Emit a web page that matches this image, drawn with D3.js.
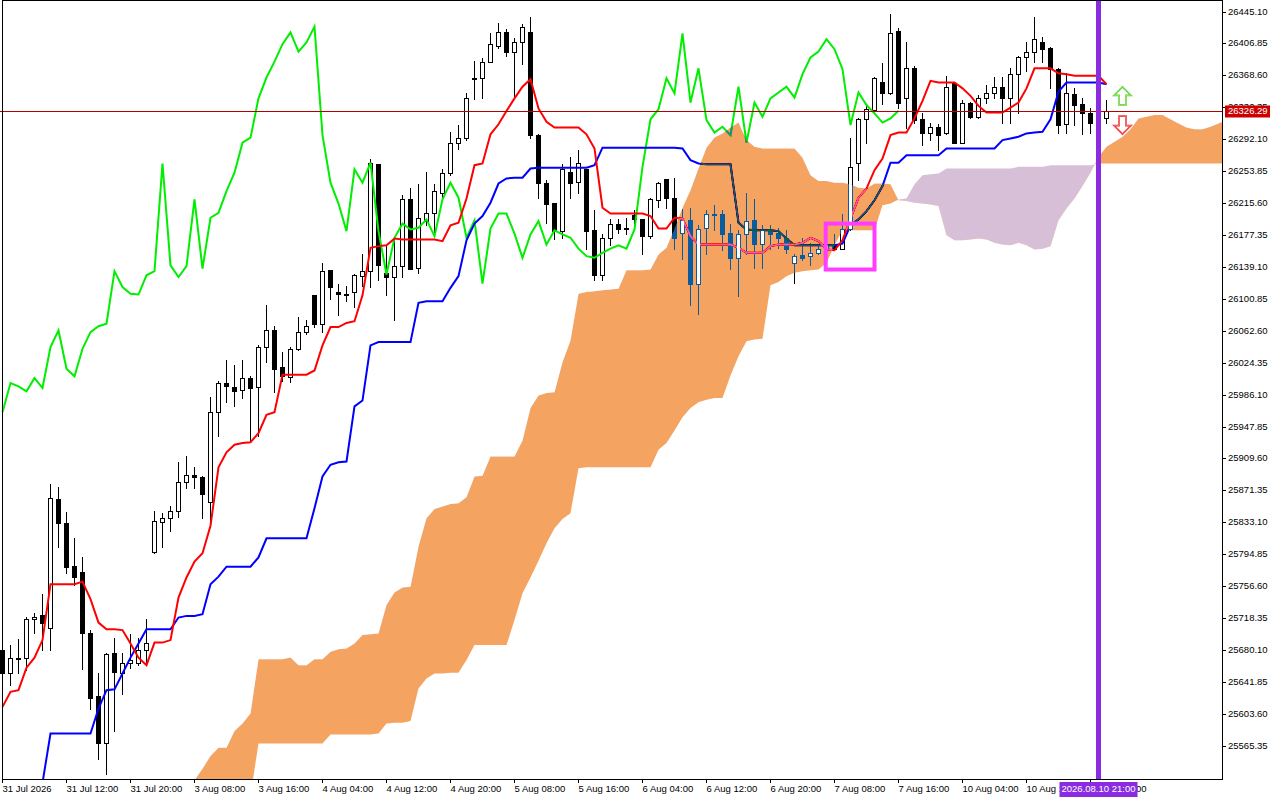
<!DOCTYPE html>
<html lang="en">
<head>
<meta charset="UTF-8">
<title>Ichimoku H1</title>
<style>
  body { margin: 0; background: #fff; overflow: hidden; }
  svg { display: block; font-family: "Liberation Sans", Arial, sans-serif; }
  .lbl { font-size: 9.5px; fill: #000; }
</style>
</head>
<body>
<svg id="chart" width="1280" height="800"></svg>
<script src="https://d3js.org/d3.v7.min.js"></script>
<script>
// H1 bars, index 0 = 31 Jul 2026 00:00
const opens = [
  25680,25653,25670,25671,25717,25722,25707,25861,25832,25781,
  25774,25701,25625,25569,25677,25653,25665,25665,25680,25797,
  25834,25838,25847,25882,25890,25887,25858,25965,26000,25995,
  25992,26006,25995,26043,26064,26019,26007,26041,26061,26105,
  26071,26135,26109,26107,26109,26128,26134,26262,26132,26127,
  26140,26221,26138,26194,26204,26228,26252,26287,26294,26365,
  26365,26385,26404,26421,26396,26408,26421,26297,26240,26216,
  26182,26253,26241,26257,26183,26130,26174,26191,26184,26201,
  26197,26176,26219,26245,26222,26180,26195,26119,26186,26201,
  26202,26180,26150,26179,26195,26167,26184,26180,26174,26144,
  26153,26152,26156,26161,26167,26161,26185,26264,26316,26327,
  26361,26347,26422,26341,26377,26316,26300,26307,26299,26360,
  26288,26336,26319,26342,26348,26355,26342,26370,26390,26397,
  26409,26401,26376,26310,26346,26334,26324,26312,26318
];
const highs = [
  25686,25686,25693,25720,25724,25747,25879,25875,25845,25814,
  25791,25704,25652,25676,25695,25677,25699,25694,25717,25847,
  25844,25853,25905,25912,25899,25888,25983,26003,26027,26021,
  26027,26008,26046,26094,26068,26037,26043,26079,26075,26105,
  26144,26135,26119,26116,26131,26154,26268,26262,26165,26171,
  26225,26234,26239,26253,26239,26257,26301,26309,26347,26386,
  26389,26419,26431,26424,26413,26430,26438,26298,26243,26216,
  26262,26271,26279,26257,26207,26178,26196,26197,26198,26207,
  26197,26222,26241,26245,26246,26209,26210,26189,26207,26213,
  26207,26191,26183,26228,26220,26189,26189,26186,26183,26155,
  26174,26168,26165,26167,26179,26202,26294,26318,26333,26367,
  26383,26442,26425,26408,26380,26324,26312,26310,26368,26360,
  26339,26337,26345,26357,26367,26367,26377,26392,26408,26439,
  26414,26402,26377,26372,26353,26341,26330,26322,26339
];
const lows = [
  25634,25638,25652,25656,25701,25680,25680,25804,25772,25758,
  25657,25609,25550,25531,25583,25628,25659,25662,25665,25796,
  25803,25823,25839,25874,25874,25838,25835,25936,25977,25972,
  25982,25929,25937,26025,25989,26002,26001,26040,26059,26067,
  26061,26101,26081,26098,26091,26116,26115,26123,26105,26075,
  26127,26136,26132,26189,26177,26222,26249,26280,26291,26340,
  26342,26384,26401,26392,26342,26382,26293,26222,26192,26172,
  26174,26222,26228,26161,26124,26123,26165,26180,26179,26191,
  26155,26174,26211,26210,26161,26149,26094,26083,26155,26183,
  26159,26137,26104,26155,26138,26138,26161,26162,26156,26120,
  26147,26141,26155,26159,26160,26160,26183,26243,26288,26324,
  26334,26346,26330,26305,26312,26285,26291,26279,26298,26287,
  26287,26318,26318,26335,26342,26312,26312,26324,26374,26385,
  26384,26353,26299,26300,26309,26298,26299,26307,26312
];
const closes = [
  25653,25671,25671,25717,25720,25712,25862,25832,25780,25767,
  25700,25623,25569,25675,25654,25665,25668,25680,25688,25835,
  25838,25847,25881,25890,25887,25867,25965,26000,25996,25990,
  26006,25994,26043,26063,26017,26008,26041,26061,26068,26071,
  26134,26115,26107,26106,26129,26134,26263,26141,26127,26140,
  26220,26137,26198,26204,26230,26252,26288,26294,26341,26366,
  26385,26406,26420,26397,26408,26427,26297,26240,26215,26182,
  26256,26240,26264,26182,26130,26174,26191,26184,26186,26196,
  26176,26220,26240,26222,26174,26195,26119,26185,26203,26203,
  26179,26150,26178,26194,26166,26183,26178,26174,26161,26152,
  26150,26156,26161,26165,26161,26184,26259,26316,26328,26365,
  26347,26419,26336,26377,26315,26300,26307,26297,26355,26288,
  26336,26319,26341,26348,26355,26342,26370,26390,26397,26412,
  26400,26376,26309,26348,26333,26323,26312,26317,26326.29
];

// Tenkan-sen (red)
const tenkan = [
  25612,25630,25632,25659,25671,25692,25759,25759,25759,25759,
  25762,25741,25713,25705,25705,25704,25688,25671,25662,25689,
  25689,25692,25743,25767,25786,25796,25829,25899,25917,25926,
  25928,25929,25940,25962,25965,26010,26010,26010,26010,26015,
  26045,26067,26067,26072,26074,26105,26162,26164,26165,26173,
  26172,26172,26172,26172,26172,26170,26189,26192,26221,26261,
  26263,26298,26310,26326,26341,26355,26364,26329,26313,26306,
  26306,26306,26306,26298,26281,26210,26203,26203,26203,26203,
  26203,26200,26185,26185,26198,26197,26176,26166,26166,26166,
  26166,26166,26162,26156,26156,26156,26164,26166,26166,26166,
  26168,26174,26170,26160,26159,26171,26197,26222,26233,26255,
  26269,26297,26300,26300,26317,26338,26362,26360,26360,26360,
  26353,26344,26332,26324,26324,26324,26330,26336,26353,26377,
  26377,26377,26371,26370,26368,26368,26368,26368,26358
];
// Kijun-sen (blue)
const kijun = [
  null,null,null,null,null,25521,25580,25580,25580,25580,
  25580,25580,25610,25632,25633,25652,25671,25688,25705,25705,
  25705,25705,25719,25721,25721,25723,25759,25768,25780,25780,
  25780,25780,25791,25814,25814,25814,25814,25814,25814,25850,
  25888,25902,25905,25906,25972,25979,26045,26049,26049,26049,
  26049,26049,26096,26098,26098,26098,26114,26128,26171,26191,
  26200,26216,26239,26245,26246,26246,26257,26258,26258,26258,
  26258,26258,26258,26258,26261,26282,26282,26282,26282,26282,
  26282,26282,26282,26282,26282,26281,26267,26263,26262,26262,
  26262,26262,26192,26184,26183,26183,26183,26182,26173,26165,
  26165,26165,26165,26165,26165,26167,26189,26196,26206,26219,
  26236,26264,26264,26273,26273,26273,26273,26273,26281,26281,
  26281,26281,26281,26281,26281,26291,26293,26295,26299,26300,
  26301,26316,26349,26360,26360,26360,26360,26360,26358
];
// Senkou Span A / B, already shifted 26 bars forward (index = bar)
const spanA = [
  null,null,null,null,null,null,null,null,null,null,
  null,null,null,null,null,null,null,null,null,null,
  null,null,null,null,25524,25538,25553,25563,25563,25583,
  25592,25604,25669,25669,25669,25669,25671,25662,25662,25669,
  25669,25678,25681,25682,25688,25698,25699,25700,25734,25749,
  25755,25756,25804,25838,25849,25852,25855,25856,25863,25888,
  25889,25912,25912,25912,25912,25931,25970,25985,25988,25989,
  26025,26051,26107,26109,26110,26111,26112,26113,26135,26135,
  26135,26136,26154,26162,26185,26210,26231,26257,26282,26294,
  26299,26306,26312,26291,26283,26281,26281,26281,26281,26281,
  26270,26249,26242,26242,26240,26240,26238,26234,26233,26239,
  26239,26238,26219,26218,26216,26215,26214,26212,26177,26171,
  26171,26172,26173,26172,26168,26166,26165,26168,26165,26160,
  26161,26164,26195,26209,26221,26236,26252,26271,26283,26289,
  26295,26304,26317,26319,26321,26321,26316,26311,26306,26304,
  26304,26307,26311,26315
];
const spanB = [
  null,null,null,null,null,null,null,null,null,null,
  null,null,null,null,null,null,null,null,null,null,
  null,null,null,null,25464,25464,25464,25464,25464,25464,
  25464,25506,25568,25568,25568,25568,25568,25568,25568,25568,
  25568,25579,25579,25579,25579,25579,25579,25580,25592,25593,
  25593,25595,25634,25646,25652,25652,25653,25653,25668,25686,
  25686,25686,25686,25686,25716,25748,25767,25787,25808,25826,
  25837,25844,25898,25899,25899,25899,25899,25899,25899,25899,
  25899,25899,25920,25928,25943,25959,25970,25977,25980,25982,
  25982,26009,26032,26050,26052,26053,26117,26121,26128,26132,
  26134,26135,26136,26144,26165,26183,26183,26183,26183,26183,
  26213,26215,26220,26221,26238,26249,26250,26251,26257,26257,
  26257,26257,26257,26257,26257,26257,26257,26259,26259,26259,
  26259,26261,26261,26261,26261,26261,26261,26263,26263,26263,
  26263,26263,26263,26263,26263,26263,26263,26263,26263,26263,
  26263,26263,26263,26263
];
// Chikou span = close shifted back 26 bars
const chikou = closes.slice(26);

// axis labels
const priceTicks = [
  "25565.35","25603.60","25641.85","25680.10","25718.35","25756.60","25794.85","25833.10",
  "25871.35","25909.60","25947.85","25986.10","26024.35","26062.60","26100.85","26139.10",
  "26177.35","26215.60","26253.85","26292.10","26330.35","26368.60","26406.85","26445.10"
];
const timeTickBars = [0,8,16,24,32,40,48,56,64,72,80,88,96,104,112,120,128,136];
const timeTickLabels = [
  "31 Jul 2026","31 Jul 12:00","31 Jul 20:00","3 Aug 08:00","3 Aug 16:00","4 Aug 04:00",
  "4 Aug 12:00","4 Aug 20:00","5 Aug 08:00","5 Aug 16:00","6 Aug 04:00","6 Aug 12:00",
  "6 Aug 20:00","7 Aug 08:00","7 Aug 16:00","10 Aug 04:00","10 Aug 12:00","10 Aug 20:00"
];

// annotations
const markerBar = 137, markerLabel = "2026.08.10 21:00";
const boxMark = { from: 102.9, to: 109, top: 26191, bottom: 26136 };
const arrowMarks = [
  { bar: 140, price: 26344, dir: "up" },
  { bar: 140, price: 26309, dir: "down" }
];

const W = 1280, H = 800, plotR = 1222, plotB = 779;
const svg = d3.select("#chart");
const x = d3.scaleLinear().domain([0, 152]).range([2.5, 1218.5]);
const y = d3.scaleLinear().domain([25565.35, 26445.10]).range([745.8, 11.5]);
const px = v => Math.floor(x(v));
const py = v => Math.round(y(v));

const defs = svg.append("defs");
defs.append("clipPath").attr("id", "plotClip")
  .append("rect").attr("x", 0).attr("y", 0).attr("width", plotR).attr("height", plotB);

const spanIdx = d3.range(spanA.length);
const hasA = i => spanA[i] != null;
defs.append("clipPath").attr("id", "belowA").append("path")
  .attr("d", d3.area().defined(hasA).x(i => x(i)).y0(H + 50).y1(i => y(spanA[i]))(spanIdx));
defs.append("clipPath").attr("id", "aboveA").append("path")
  .attr("d", d3.area().defined(hasA).x(i => x(i)).y0(-50).y1(i => y(spanA[i]))(spanIdx));
const cloudArea = d3.area()
  .defined(i => spanA[i] != null && spanB[i] != null)
  .x(i => x(i)).y0(i => y(spanB[i])).y1(i => y(spanA[i]));
defs.append("clipPath").attr("id", "cloudClip").append("path").attr("d", cloudArea(spanIdx));

const plot = svg.append("g").attr("clip-path", "url(#plotClip)");
plot.append("rect").attr("width", plotR).attr("height", plotB).attr("fill", "#fff");

// candles
const bars = opens.map((o, i) => ({ i, o, h: highs[i], l: lows[i], c: closes[i] }));
const cg = plot.append("g").attr("shape-rendering", "crispEdges");
cg.selectAll(".wick").data(bars).enter().append("rect")
  .attr("x", d => px(d.i)).attr("width", 1)
  .attr("y", d => py(d.h)).attr("height", d => py(d.l) - py(d.h) + 1)
  .attr("fill", "#000");
cg.selectAll(".body").data(bars).enter().append("rect")
  .attr("x", d => px(d.i) - 1.5).attr("width", 4)
  .attr("y", d => py(Math.max(d.o, d.c)) + 0.5)
  .attr("height", d => Math.max(py(Math.min(d.o, d.c)) - py(Math.max(d.o, d.c)), 1))
  .attr("fill", d => d.c >= d.o ? "#fff" : "#000")
  .attr("stroke", "#000");

// ichimoku lines
const lineOf = arr => d3.line().defined(d => d != null).x((d, i) => x(i)).y(d => y(d))(arr);
plot.append("path").attr("d", lineOf(chikou)).attr("fill", "none").attr("stroke", "#00ee00").attr("stroke-width", 2);
plot.append("path").attr("d", lineOf(kijun)).attr("fill", "none").attr("stroke", "#0000ff").attr("stroke-width", 2);
plot.append("path").attr("d", lineOf(tenkan)).attr("fill", "none").attr("stroke", "#ff0000").attr("stroke-width", 2);

// cloud, painted the way the terminal does it (colours inverted where marks overlap)
plot.append("path").attr("d", cloudArea(spanIdx))
  .attr("fill", "#0b5b9f").attr("clip-path", "url(#belowA)")
  .style("mix-blend-mode", "difference");
plot.append("path").attr("d", cloudArea(spanIdx))
  .attr("fill", "#274027").attr("clip-path", "url(#aboveA)")
  .style("mix-blend-mode", "difference");

// bull bodies stay white inside the cloud
plot.append("g").attr("clip-path", "url(#cloudClip)").attr("shape-rendering", "crispEdges")
  .selectAll("rect").data(bars.filter(d => d.c > d.o && py(d.o) - py(d.c) > 1)).enter().append("rect")
  .attr("x", d => px(d.i) - 1).attr("width", 3)
  .attr("y", d => py(d.c) + 1).attr("height", d => py(d.o) - py(d.c) - 1)
  .attr("fill", "#fff");

// last price line
const lastPrice = closes[closes.length - 1];
plot.append("line").attr("x1", 0).attr("x2", plotR)
  .attr("y1", py(lastPrice) + 0.5).attr("y2", py(lastPrice) + 0.5)
  .attr("stroke", "#b40000").attr("stroke-width", 1);

// magenta box
plot.append("rect")
  .attr("x", x(boxMark.from)).attr("y", y(boxMark.top))
  .attr("width", x(boxMark.to) - x(boxMark.from)).attr("height", y(boxMark.bottom) - y(boxMark.top))
  .attr("fill", "none").attr("stroke", "#ff3cff").attr("stroke-width", 4);

// purple time marker
plot.append("line").attr("x1", x(markerBar)).attr("x2", x(markerBar))
  .attr("y1", 0).attr("y2", plotB).attr("stroke", "#8a2be2").attr("stroke-width", 5);

// arrows
arrowMarks.forEach(a => {
  const cx = x(a.bar), cy = y(a.price);
  const s = a.dir === "up" ? -1 : 1;
  const pts = [[0, 9 * s], [-8.5, 0.5 * s], [-3.5, 0.5 * s], [-3.5, -9 * s], [3.5, -9 * s], [3.5, 0.5 * s], [8.5, 0.5 * s]]
    .map(p => [cx + p[0], cy + p[1]]);
  const d = "M" + pts.map(p => p.join(",")).join("L") + "Z";
  plot.append("path").attr("d", d).attr("fill", "#fff")
    .attr("stroke", a.dir === "up" ? "#44cc33" : "#ee2222").attr("stroke-width", 1.6);
  plot.append("path").attr("d", d).attr("fill", "none")
    .attr("stroke", a.dir === "up" ? "#d8f080" : "#ff9aa0").attr("stroke-width", 0.6);
});

// frame and axes
const ax = svg.append("g").attr("shape-rendering", "crispEdges");
ax.append("rect").attr("x", 2.5).attr("y", 0.5).attr("width", plotR - 2).attr("height", plotB)
  .attr("fill", "none").attr("stroke", "#000");

priceTicks.forEach(t => {
  const ty = py(+t) + 0.5;
  ax.append("line").attr("x1", plotR).attr("x2", plotR + 4).attr("y1", ty).attr("y2", ty).attr("stroke", "#000");
  ax.append("text").attr("class", "lbl").attr("x", plotR + 6).attr("y", ty)
    .attr("dominant-baseline", "middle").text(t);
});

timeTickBars.forEach((b, k) => {
  const tx = px(b) + 0.5;
  ax.append("line").attr("x1", tx).attr("x2", tx).attr("y1", plotB).attr("y2", plotB + 4).attr("stroke", "#000");
  ax.append("text").attr("class", "lbl").attr("x", tx).attr("y", plotB + 10)
    .attr("dominant-baseline", "middle").text(timeTickLabels[k]);
});

// last price label
const lp = py(lastPrice);
svg.append("rect").attr("x", plotR + 3).attr("y", lp - 5.5).attr("width", 45).attr("height", 12)
  .attr("fill", "#cc0000");
svg.append("text").attr("class", "lbl").attr("x", plotR + 6).attr("y", lp + 0.5)
  .attr("dominant-baseline", "middle").attr("fill", "#fff").style("fill", "#fff")
  .text(lastPrice.toFixed(2));

// marker time label
const mx = x(markerBar);
svg.append("rect").attr("x", mx - 39).attr("y", plotB + 3).attr("width", 78).attr("height", 15)
  .attr("fill", "#8a2be2");
svg.append("text").attr("class", "lbl").attr("x", mx).attr("y", plotB + 10.5)
  .attr("text-anchor", "middle").attr("dominant-baseline", "middle")
  .style("fill", "#fff").text(markerLabel);
</script>
</body>
</html>
